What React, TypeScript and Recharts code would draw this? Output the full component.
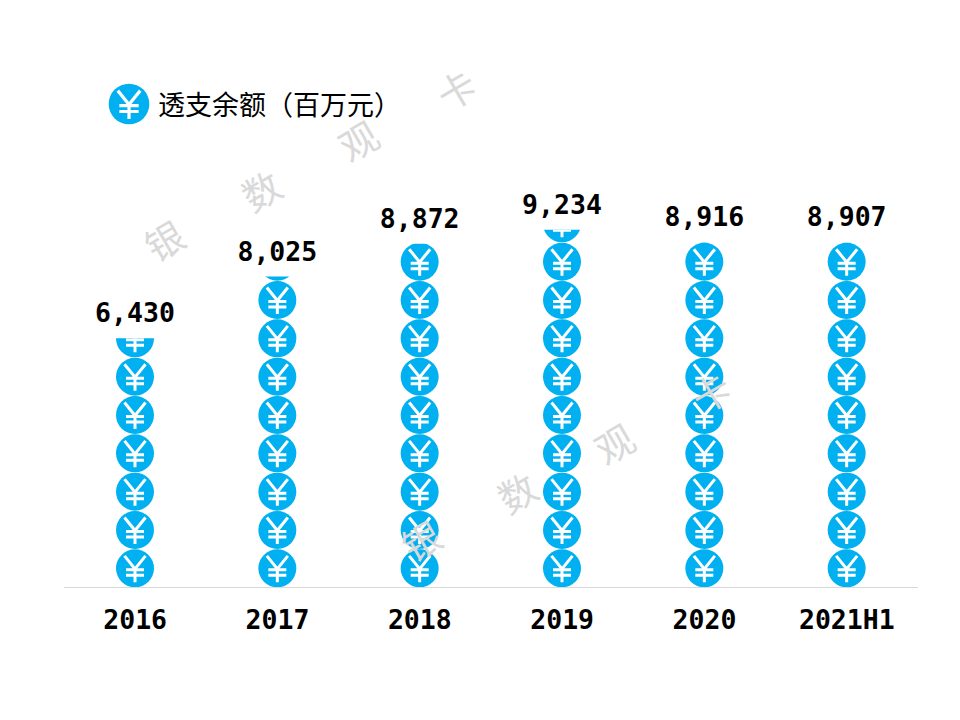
import { BarChart, Bar, XAxis, YAxis, LabelList, Legend } from 'recharts';

const CATEGORIES = ['2016', '2017', '2018', '2019', '2020', '2021H1'];
const OVERDRAFT = [6430, 8025, 8872, 9234, 8916, 8907];
const SERIES_NAME = '透支余额（百万元）';
const WATERMARK_CHARS = ['银', '数', '观', '卡', '银', '数', '观', '卡'];
const WATERMARK_LEFT = [164, 261, 358, 456, 421, 517, 614, 711];
const WATERMARK_TOP = [240, 190, 140, 89, 540, 492, 443, 392];

const data = CATEGORIES.map((year, i) => ({ year, value: OVERDRAFT[i] }));

const BLUE = '#00b0f0';
const COIN = 38;
const PITCH = 38.33;

function Coin({ cx, cy }: { cx: number; cy: number }) {
  return (
    <g transform={`translate(${cx},${cy})`}>
      <circle r={COIN / 2} fill={BLUE} />
      <path
        d="M-10.5,-12.5 L0,0.5 L10.5,-12.5 M0,0.5 V14 M-9,1.5 H9 M-9,7 H9"
        fill="none"
        stroke="#fff"
        strokeWidth={3}
      />
    </g>
  );
}

function CoinStack(props: any) {
  const { x, y, width, height, index } = props;
  const cx = x + width / 2;
  const bottom = y + height;
  const count = Math.ceil(height / PITCH);
  const clipId = `stack-clip-${index}`;
  return (
    <g>
      <clipPath id={clipId}>
        <rect x={x - 1} y={y} width={width + 2} height={height} />
      </clipPath>
      <g clipPath={`url(#${clipId})`}>
        {Array.from({ length: count }, (_, i) => (
          <Coin key={i} cx={cx} cy={bottom - PITCH * i - PITCH / 2} />
        ))}
      </g>
    </g>
  );
}

function CoinLegend() {
  return (
    <div style={{ display: 'flex', alignItems: 'center' }}>
      <svg width={42} height={42} viewBox="-21 -21 42 42">
        <g transform="scale(1.07)">
          <Coin cx={0} cy={0} />
        </g>
      </svg>
      <span style={{ marginLeft: 8, marginTop: -2, fontSize: 27, color: '#000', whiteSpace: 'nowrap', fontFamily: '"Noto Sans CJK SC"' }}>
        {SERIES_NAME}
      </span>
    </div>
  );
}

export default function App() {
  return (
    <div style={{ position: 'absolute', left: 0, top: 0, width: 960, height: 720, background: '#fff', overflow: 'hidden' }}>
      <BarChart
        width={960}
        height={720}
        data={data}
        margin={{ top: 200, right: 42, bottom: 0, left: 64 }}
      >
        <XAxis
          dataKey="year"
          height={132.5}
          tickLine={false}
          axisLine={{ stroke: '#d9d9d9' }}
          tickMargin={17}
          tick={{ fontSize: 26.5, fontWeight: 700, fill: '#000', fontFamily: '"DejaVu Sans Mono"' }}
          interval={0}
        />
        <YAxis hide domain={[0, 10000]} />
        <Legend
          verticalAlign="middle"
          content={<CoinLegend />}
          wrapperStyle={{ left: 108, top: 83, width: 320, bottom: 'auto' }}
        />
        <Bar dataKey="value" barSize={COIN} shape={<CoinStack />} isAnimationActive={false}>
          <LabelList
            dataKey="value"
            position="top"
            offset={16}
            formatter={(v: any) => Number(v).toLocaleString('en-US')}
            style={{ fontSize: 26.5, fontWeight: 700, fill: '#000', fontFamily: '"DejaVu Sans Mono"' }}
          />
        </Bar>
      </BarChart>
      {WATERMARK_CHARS.map((ch, i) => (
        <div
          key={i}
          style={{
            position: 'absolute',
            left: WATERMARK_LEFT[i] - 30,
            top: WATERMARK_TOP[i] - 30,
            width: 60,
            height: 60,
            lineHeight: '60px',
            textAlign: 'center',
            fontSize: 38,
            color: '#d9d9d9',
            fontFamily: '"Noto Sans CJK SC"',
            transform: 'rotate(-30deg)',
            pointerEvents: 'none',
          }}
        >
          {ch}
        </div>
      ))}
    </div>
  );
}
